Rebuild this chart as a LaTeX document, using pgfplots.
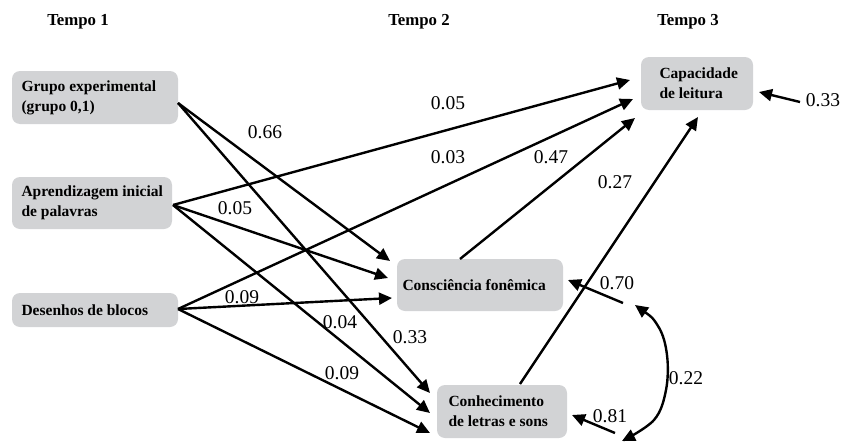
\documentclass[border=0pt]{standalone}
\usepackage{pgfplots}
\pgfplotsset{compat=1.18}
\usepackage{fontspec}
\setmainfont{Liberation Serif}
\usetikzlibrary{arrows.meta}
\definecolor{boxgray}{HTML}{D2D3D5}
\begin{document}
\begin{tikzpicture}[
  lab/.style={anchor=west, align=left, font=\bfseries\fontsize{15.5}{19.5}\selectfont},
  num/.style={font=\fontsize{19.5}{22}\selectfont},
  tmp/.style={font=\bfseries\fontsize{16.8}{20}\selectfont}]
\begin{axis}[hide axis, scale only axis, width=844pt, height=442pt,
  xmin=0, xmax=844, ymin=0, ymax=442, y dir=reverse,
  arr/.style={black, line width=2.4pt, -{Triangle[length=13pt,width=12pt]}}]
% boxes
\fill[boxgray, rounded corners=8pt] (axis cs:12,71) rectangle (axis cs:178,124);
\fill[boxgray, rounded corners=8pt] (axis cs:12,177) rectangle (axis cs:172,229);
\fill[boxgray, rounded corners=8pt] (axis cs:12,293) rectangle (axis cs:178,327);
\fill[boxgray, rounded corners=8pt] (axis cs:397,259) rectangle (axis cs:563,311);
\fill[boxgray, rounded corners=8pt] (axis cs:437,385) rectangle (axis cs:567,438);
\fill[boxgray, rounded corners=8pt] (axis cs:641,57) rectangle (axis cs:753,110);
% box labels
\node[lab] at (axis cs:18,98) {Grupo experimental\\(grupo 0,1)};
\node[lab] at (axis cs:18,203) {Aprendizagem inicial\\de palavras};
\node[lab] at (axis cs:18,310) {Desenhos de blocos};
\node[lab] at (axis cs:399,285) {Consciência fonêmica};
\node[lab] at (axis cs:445,411) {Conhecimento\\de letras e sons};
\node[lab] at (axis cs:656,83) {Capacidade\\de leitura};
% titles
\node[tmp] at (axis cs:78,22) {Tempo 1};
\node[tmp] at (axis cs:419,22) {Tempo 2};
\node[tmp] at (axis cs:688,22) {Tempo 3};
% paths
\addplot[arr] coordinates {(178,103) (390,261)};
\addplot[arr] coordinates {(178,103) (430,393)};
\addplot[arr] coordinates {(173,205) (630,80)};
\addplot[arr] coordinates {(173,205) (388,278)};
\addplot[arr] coordinates {(173,205) (430,413)};
\addplot[arr] coordinates {(178,309) (633,99)};
\addplot[arr] coordinates {(178,309) (392,298)};
\addplot[arr] coordinates {(178,309) (430,433)};
\addplot[arr] coordinates {(460,259) (635,118)};
\addplot[arr] coordinates {(520,384) (698,117)};
\addplot[arr] coordinates {(800,102) (759,92)};
\addplot[arr] coordinates {(623,303) (568,280)};
\addplot[arr] coordinates {(615,433) (572,415)};
\addplot[black, line width=2.4pt, {Triangle[length=13pt,width=12pt]}-{Triangle[length=13pt,width=12pt]}, smooth, tension=0.6]
  coordinates {(635,305) (658,326) (667,355) (666,390) (654,420) (622,441)};
% coefficients
\node[num] at (axis cs:265,132) {0.66};
\node[num] at (axis cs:448,103) {0.05};
\node[num] at (axis cs:448,157) {0.03};
\node[num] at (axis cs:551,157) {0.47};
\node[num] at (axis cs:615,182) {0.27};
\node[num] at (axis cs:235,208) {0.05};
\node[num] at (axis cs:242,297) {0.09};
\node[num] at (axis cs:340,322) {0.04};
\node[num] at (axis cs:410,337) {0.33};
\node[num] at (axis cs:342,373) {0.09};
\node[num] at (axis cs:617,283) {0.70};
\node[num] at (axis cs:610,416) {0.81};
\node[num] at (axis cs:686,378) {0.22};
\node[num] at (axis cs:823,100) {0.33};
\end{axis}
\pgfresetboundingbox
\path (current axis.south west) rectangle (current axis.north east);
\end{tikzpicture}
\end{document}
